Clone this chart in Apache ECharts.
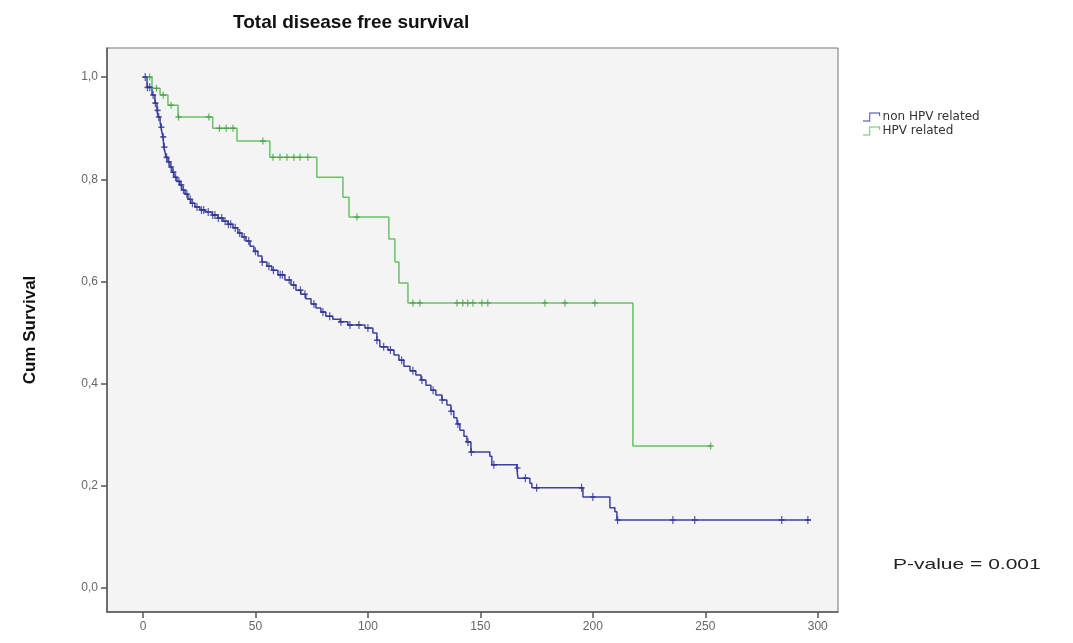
<!DOCTYPE html>
<html>
<head>
<meta charset="utf-8">
<script src="https://cdn.jsdelivr.net/npm/echarts@6/dist/echarts.min.js"></script>
<style>
  html, body { margin: 0; padding: 0; background: #fff; }
  #chart { width: 1073px; height: 643px; }
</style>
</head>
<body>
<div id="chart"></div>
<script>
// Kaplan-Meier steps (time, cumulative survival)
const nonHpvTime = [0, 1.8, 4.0, 5.3, 6.2, 6.7, 7.6, 8.0, 8.4, 8.9, 9.3, 9.8, 10.2, 11.1, 12.0, 12.9, 13.8, 15.1, 16.4, 17.3, 18.7, 20.0, 21.3, 23.1, 25.3, 27.6, 30.7, 33.3, 35.6, 37.8, 40.0, 42.2, 44.0, 45.8, 47.6, 49.3, 51.1, 52.9, 55.1, 57.3, 60.0, 63.1, 65.8, 68.0, 70.2, 72.4, 74.7, 76.9, 79.1, 81.3, 84.4, 87.6, 91.1, 98.7, 102.2, 104.0, 105.3, 108.9, 111.6, 113.8, 116.0, 118.7, 121.3, 123.6, 125.8, 128.0, 130.2, 132.9, 135.1, 136.9, 138.2, 139.6, 140.9, 142.7, 144.0, 145.8, 154.2, 155.1, 166.2, 166.7, 172.0, 172.9, 195.6, 207.6, 209.8, 210.7, 297];
const nonHpvSurv = [1.0, 0.980, 0.965, 0.949, 0.935, 0.922, 0.912, 0.902, 0.892, 0.883, 0.863, 0.853, 0.843, 0.834, 0.824, 0.814, 0.804, 0.796, 0.789, 0.779, 0.771, 0.761, 0.753, 0.746, 0.740, 0.736, 0.730, 0.724, 0.718, 0.712, 0.705, 0.695, 0.687, 0.679, 0.669, 0.659, 0.650, 0.638, 0.630, 0.622, 0.613, 0.603, 0.593, 0.583, 0.575, 0.566, 0.556, 0.548, 0.540, 0.532, 0.526, 0.521, 0.515, 0.509, 0.499, 0.485, 0.472, 0.466, 0.456, 0.446, 0.434, 0.425, 0.417, 0.407, 0.397, 0.387, 0.378, 0.368, 0.358, 0.346, 0.333, 0.321, 0.309, 0.297, 0.286, 0.266, 0.258, 0.241, 0.235, 0.215, 0.205, 0.196, 0.178, 0.157, 0.149, 0.133, 0.133];
const nonHpvCensored = [1, 2, 3, 4.5, 5.5, 6.5, 7, 8.2, 9, 9.5, 10.5, 11.5, 12.5, 13.5, 14.5, 16, 17, 18, 19.5, 21, 22, 24, 26, 27, 29, 31, 32, 33.5, 35, 36.5, 38, 39, 41, 43, 45, 47, 50, 53, 56, 58, 61, 62, 65, 67, 70, 72, 76, 80, 83, 88, 92, 96, 100, 104, 107, 110, 115, 120, 124, 129, 133, 137, 140, 144.5, 146, 156, 166.5, 170, 175, 195, 200, 211, 235.6, 245.3, 284, 295.6];

const hpvTime = [0, 4.0, 7.6, 11.1, 15.6, 31.0, 41.8, 56.4, 77.3, 88.9, 91.6, 109.3, 112.0, 113.8, 117.8, 217.8, 252.4];
const hpvSurv = [1.0, 0.978, 0.965, 0.945, 0.922, 0.900, 0.875, 0.843, 0.804, 0.765, 0.726, 0.683, 0.638, 0.597, 0.558, 0.278, 0.278];
const hpvCensored = [3, 6, 9, 12.5, 15.8, 29.3, 34, 37, 40, 53.3, 57.8, 60.9, 64, 67.1, 69.8, 73.3, 95.1, 120, 123.1, 139.6, 142.2, 144.4, 146.7, 150.7, 153.3, 178.7, 187.6, 200.9, 252.4];

const xTicks = [0, 50, 100, 150, 200, 250, 300];
const yTicks = [0, 0.2, 0.4, 0.6, 0.8, 1.0];

function steps(time, surv) {
  return time.map((t, i) => [t, surv[i]]);
}
// value of the step curve at time t
function survAt(time, surv, t) {
  let s = surv[0];
  for (let i = 0; i < time.length; i++) {
    if (time[i] <= t) s = surv[i];
  }
  return s;
}
function censorPoints(times, time, surv) {
  return times.map(t => [t, survAt(time, surv, t)]);
}

const plus = 'path://M4,0H6V4H10V6H6V10H4V6H0V4H4Z';
const stepIcon = 'path://M0,9H7V0H19V4H18V1H8V10H0Z';
const blue = '#3c40a0';
const green = '#68c268';

const chart = echarts.init(document.getElementById('chart'));
chart.setOption({
  backgroundColor: '#ffffff',
  animation: false,
  title: {
    text: 'Total disease free survival',
    left: 228,
    top: 8,
    textStyle: { fontFamily: 'Liberation Sans', fontWeight: 'bold', fontSize: 19, color: '#111' }
  },
  legend: {
    orient: 'vertical',
    left: 858,
    top: 106,
    itemWidth: 20,
    itemHeight: 9,
    itemGap: 2,
    data: [
      { name: 'non HPV related', icon: stepIcon },
      { name: 'HPV related', icon: stepIcon }
    ],
    textStyle: { fontFamily: 'DejaVu Sans', fontSize: 12, color: '#333', padding: [0, 0, 0, -4] }
  },
  grid: {
    left: 107,
    top: 48,
    width: 731,
    height: 564,
    show: true,
    backgroundColor: '#f4f4f4',
    borderColor: '#777',
    borderWidth: 1
  },
  xAxis: {
    type: 'value',
    min: -16,
    max: 309,
    axisLine: { show: true, onZero: false, lineStyle: { color: '#555', width: 1.5 } },
    axisTick: { show: true, customValues: xTicks, length: 6, lineStyle: { color: '#555', width: 1.5 } },
    axisLabel: { customValues: xTicks, color: '#666', fontSize: 12, margin: 9, fontFamily: 'Liberation Sans' },
    splitLine: { show: false }
  },
  yAxis: {
    type: 'value',
    min: -0.047,
    max: 1.057,
    name: 'Cum Survival',
    nameLocation: 'middle',
    nameGap: 68,
    nameRotate: 90,
    nameTextStyle: { fontFamily: 'Liberation Sans Narrow, Liberation Sans', fontWeight: 'bold', fontSize: 17, color: '#111' },
    axisLine: { show: true, onZero: false, lineStyle: { color: '#555', width: 1.5 } },
    axisTick: { show: true, customValues: yTicks, length: 6, lineStyle: { color: '#555', width: 1.5 } },
    axisLabel: {
      customValues: yTicks,
      color: '#666',
      fontSize: 12,
      margin: 9,
      fontFamily: 'Liberation Sans',
      formatter: v => v.toFixed(1).replace('.', ',')
    },
    splitLine: { show: false }
  },
  series: [
    {
      name: 'non HPV related',
      type: 'line',
      step: 'end',
      symbol: 'none',
      data: steps(nonHpvTime, nonHpvSurv),
      lineStyle: { color: blue, width: 1.5 },
      itemStyle: { color: blue },
      z: 3
    },
    {
      name: 'HPV related',
      type: 'line',
      step: 'end',
      symbol: 'none',
      data: steps(hpvTime, hpvSurv),
      lineStyle: { color: green, width: 1.5 },
      itemStyle: { color: green },
      z: 3
    },
    {
      name: 'non HPV censored',
      type: 'scatter',
      symbol: plus,
      symbolSize: [6, 8],
      data: censorPoints(nonHpvCensored, nonHpvTime, nonHpvSurv),
      itemStyle: { color: '#2d3190' },
      z: 4
    },
    {
      name: 'HPV censored',
      type: 'scatter',
      symbol: plus,
      symbolSize: [6, 7],
      data: censorPoints(hpvCensored, hpvTime, hpvSurv),
      itemStyle: { color: '#3f9f3f' },
      z: 4
    }
  ],
  graphic: [
    {
      type: 'text',
      x: 893,
      y: 557,
      scaleX: 1.4,
      style: { text: 'P-value = 0.001', font: '15px "Liberation Sans"', fill: '#222' }
    }
  ]
});
</script>
</body>
</html>
